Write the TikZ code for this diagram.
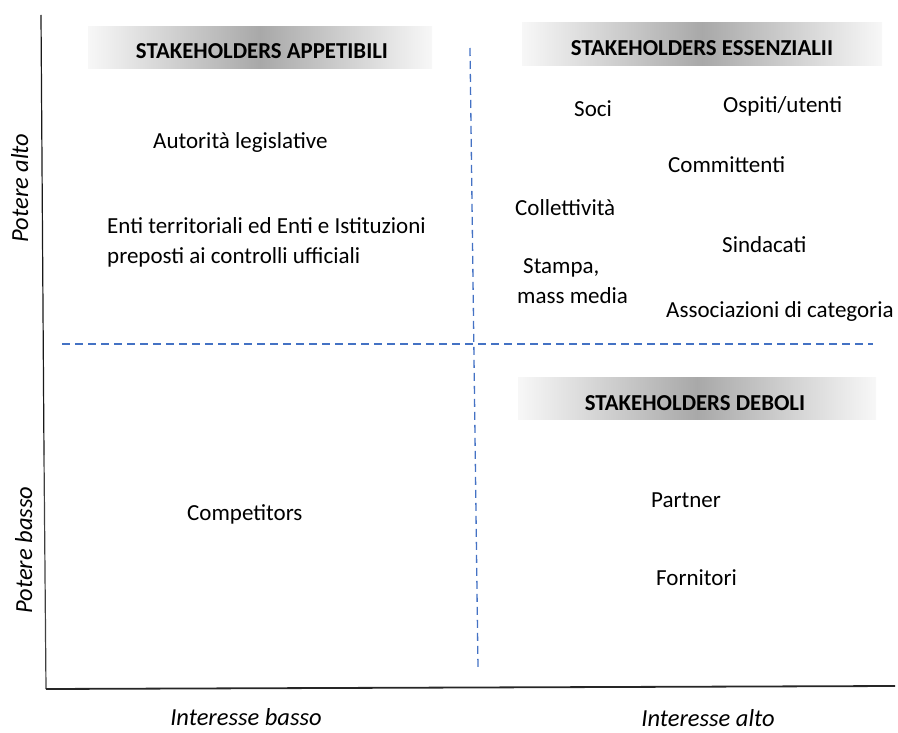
\documentclass[tikz,border=0pt]{standalone}
\usepackage{fontspec}
\setmainfont{Carlito}
\usetikzlibrary{positioning}
\definecolor{dashblue}{HTML}{4472C4}
\tikzset{
  bar/.style={left color=gray!6, right color=gray!6, middle color=gray!68},
  header/.style={anchor=base, inner sep=0pt, font=\fontsize{22.8}{27}\selectfont\bfseries},
  stake/.style={anchor=base west, inner sep=0pt, font=\fontsize{23}{27}\selectfont},
  axislabel/.style={anchor=base, inner sep=0pt, font=\fontsize{24.5}{29}\selectfont\itshape},
  quadline/.style={dashblue, line width=1.3pt, dash pattern=on 8pt off 5pt},
}

\begin{document}
\begin{tikzpicture}[x=1pt,y=-1pt]
		%%%%% START %%%%%
		\useasboundingbox (0,0) rectangle (898,733);
		
		% axes
		\coordinate (ytop) at (41,15);
		\coordinate (ymid) at (44,455);
		\coordinate (ybot) at (46,689);
		\coordinate (xend) at (895,686);
		\draw[line width=1.2pt, black!90] (ytop) -- (ymid);
		\draw[line width=1.2pt, black!75] (ymid) -- (ybot);
		\draw[line width=1.8pt, black!85] (ybot) -- (xend);
		
		% quadrant separators
		\coordinate (vtop) at (470,48);
		\coordinate (vbot) at (478,668);
		\coordinate (hleft) at (62,344);
		\coordinate (hright) at (873,344);
		\draw[quadline] (vtop) -- (vbot);
		\draw[quadline] (hleft) -- (hright);
		
		% headers
		\shade[bar] (88,27) rectangle (432,69);
		\shade[bar] (522,23) rectangle (882,66);
		\shade[bar] (518,377) rectangle (876,419);
		\node[header] (appetibili) at (262,59) {STAKEHOLDERS APPETIBILI};
		\node[header] (essenziali) at (702,56) {STAKEHOLDERS ESSENZIALII};
		\node[header] (deboli) at (695,410) {STAKEHOLDERS DEBOLI};
		
		% high power, low interest
		\node[stake] (autorita) at (153,149) {Autorità legislative};
		\node[stake] (enti) at (107,234) {Enti territoriali ed Enti e Istituzioni};
		\node[stake] (preposti) at ([yshift=-29pt]enti.base west) {preposti ai controlli ufficiali};
		
		% high power, high interest
		\node[stake] (soci) at (574,117) {Soci};
		\node[stake] (ospiti) at (723,113) {Ospiti/utenti};
		\node[stake] (committenti) at (668,173) {Committenti};
		\node[stake] (collettivita) at (515,216) {Collettività};
		\node[stake] (sindacati) at (722,252) {Sindacati};
		\node[stake] (stampa) at (523,273) {Stampa,};
		\node[stake] (massmedia) at (517,303) {mass media};
		\node[stake] (associazioni) at (666,317) {Associazioni di categoria};
		
		% low power
		\node[stake] (competitors) at (187,520) {Competitors};
		\node[stake] (partner) at (651,507) {Partner};
		\node[stake] (fornitori) at (656,585) {Fornitori};
		
		% axis labels
		\node[axislabel, rotate=90] (alto) at (28,188) {Potere alto};
		\node[axislabel, rotate=90] (basso) at (32,550) {Potere basso};
		\node[axislabel] (intbasso) at (246,725) {Interesse basso};
		\node[axislabel] (intalto) at (708,726) {Interesse alto};
		
		%%%%% END %%%%%
\end{tikzpicture}
\end{document}
